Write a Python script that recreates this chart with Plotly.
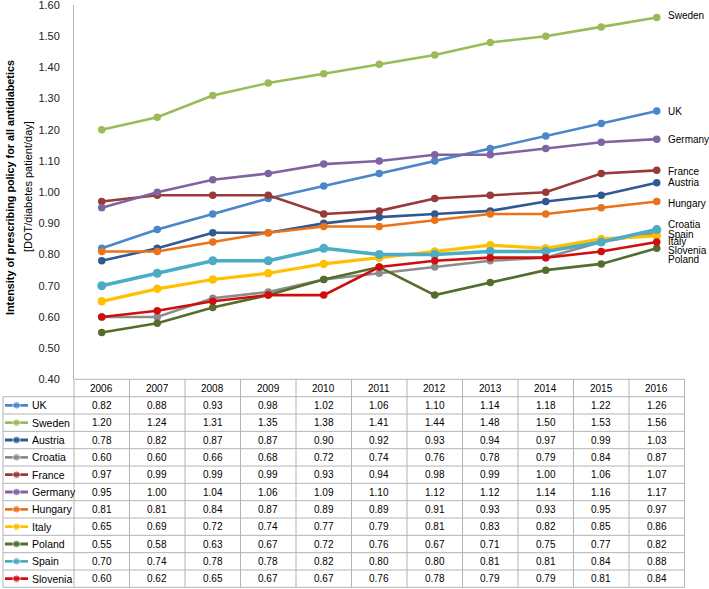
import plotly.graph_objects as go

# ---------------- data ----------------
years = ["2006", "2007", "2008", "2009", "2010", "2011", "2012", "2013", "2014", "2015", "2016"]
countries = ["UK", "Sweden", "Austria", "Croatia", "France", "Germany",
             "Hungary", "Italy", "Poland", "Spain", "Slovenia"]

uk       = [0.82, 0.88, 0.93, 0.98, 1.02, 1.06, 1.10, 1.14, 1.18, 1.22, 1.26]
sweden   = [1.20, 1.24, 1.31, 1.35, 1.38, 1.41, 1.44, 1.48, 1.50, 1.53, 1.56]
austria  = [0.78, 0.82, 0.87, 0.87, 0.90, 0.92, 0.93, 0.94, 0.97, 0.99, 1.03]
croatia  = [0.60, 0.60, 0.66, 0.68, 0.72, 0.74, 0.76, 0.78, 0.79, 0.84, 0.87]
france   = [0.97, 0.99, 0.99, 0.99, 0.93, 0.94, 0.98, 0.99, 1.00, 1.06, 1.07]
germany  = [0.95, 1.00, 1.04, 1.06, 1.09, 1.10, 1.12, 1.12, 1.14, 1.16, 1.17]
hungary  = [0.81, 0.81, 0.84, 0.87, 0.89, 0.89, 0.91, 0.93, 0.93, 0.95, 0.97]
italy    = [0.65, 0.69, 0.72, 0.74, 0.77, 0.79, 0.81, 0.83, 0.82, 0.85, 0.86]
poland   = [0.55, 0.58, 0.63, 0.67, 0.72, 0.76, 0.67, 0.71, 0.75, 0.77, 0.82]
spain    = [0.70, 0.74, 0.78, 0.78, 0.82, 0.80, 0.80, 0.81, 0.81, 0.84, 0.88]
slovenia = [0.60, 0.62, 0.65, 0.67, 0.67, 0.76, 0.78, 0.79, 0.79, 0.81, 0.84]

y_ticks = [0.40, 0.50, 0.60, 0.70, 0.80, 0.90, 1.00, 1.10, 1.20, 1.30, 1.40, 1.50, 1.60]
y_title_1 = "Intensity of prescribing policy for all antidiabetics"
y_title_2 = "[DOT/diabetes patient/day]"

series = [uk, sweden, austria, croatia, france, germany, hungary, italy, poland, spain, slovenia]

# ---------------- styles ----------------
colors = {
    "UK": "#4A86C8", "Sweden": "#9BBB59", "Austria": "#2E5993", "Croatia": "#8C8C8C",
    "France": "#983A37", "Germany": "#8064A2", "Hungary": "#EB7218", "Italy": "#FFC000",
    "Poland": "#546D2C", "Spain": "#4BACC6", "Slovenia": "#D00E0E",
}
widths = {"Italy": 3.2, "Spain": 3.6}
msizes = {"Italy": 8.5, "Spain": 9}
# label vertical offsets (px) for right-hand end labels
label_shift = {"Sweden": 2, "UK": 0, "Germany": 0, "France": -1, "Austria": 0, "Hungary": -2,
               "Croatia": 8, "Spain": -4.5, "Italy": -5.3, "Slovenia": -8.4, "Poland": -11.2}
label_order = ["Sweden", "UK", "Germany", "France", "Austria", "Hungary",
               "Croatia", "Spain", "Italy", "Slovenia", "Poland"]

W, H = 709, 589
FONT = "Liberation Sans, Arial, sans-serif"
GRID = "#B4B4B4"


def px(x):
    return x / W


def py(y):
    return 1 - y / H


PLOT_L, PLOT_R = 74, 684.5
PLOT_T, PLOT_B = 5, 379.3
ROW_T = 396.7
ROW_H = 17.33
TBL_B = ROW_T + ROW_H * len(countries)
LEFT = 3

fig = go.Figure()

for name, vals in zip(countries, series):
    fig.add_trace(go.Scatter(
        x=years, y=vals, mode="lines+markers", name=name,
        line=dict(color=colors[name], width=widths.get(name, 2.6)),
        marker=dict(color=colors[name], size=msizes.get(name, 7.5)),
        showlegend=False, hoverinfo="skip", xaxis="x", yaxis="y",
    ))

# legend keys in the table's first column
for i, name in enumerate(countries):
    fig.add_trace(go.Scatter(
        x=[5, 16.5, 28], y=[i, i, i], mode="lines+markers",
        line=dict(color=colors[name], width=2.8),
        marker=dict(color=colors[name], size=[0, 7.5, 0]),
        showlegend=False, hoverinfo="skip", xaxis="x2", yaxis="y2",
    ))

annotations = []
last = len(years) - 1
# end labels
for name in label_order:
    vals = series[countries.index(name)]
    annotations.append(dict(
        x=last, y=vals[-1], xref="x", yref="y", text=name, showarrow=False,
        xanchor="left", yanchor="middle", xshift=9, yshift=label_shift[name],
        font=dict(family=FONT, size=10, color="#000000"),
    ))

# table header
for j, yr in enumerate(years):
    annotations.append(dict(
        x=j, y=py((PLOT_B + ROW_T) / 2), xref="x", yref="paper", text=yr, showarrow=False,
        xanchor="center", yanchor="middle", font=dict(family=FONT, size=10, color="#000000"),
    ))

# table body
for i, (name, vals) in enumerate(zip(countries, series)):
    annotations.append(dict(
        x=29.5, y=i, xref="x2", yref="y2", text=name, showarrow=False,
        xanchor="left", yanchor="middle", font=dict(family=FONT, size=10.5, color="#000000"),
    ))
    for j, v in enumerate(vals):
        annotations.append(dict(
            x=j, y=i, xref="x", yref="y2", text=f"{v:.2f}", showarrow=False,
            xanchor="center", yanchor="middle", font=dict(family=FONT, size=10, color="#000000"),
        ))

# axis title (two lines)
annotations.append(dict(
    x=px(10.5), y=py(187.5), xref="paper", yref="paper", text=f"<b>{y_title_1}</b>",
    showarrow=False, textangle=-90, xanchor="center", yanchor="middle",
    font=dict(family=FONT, size=10.8, color="#000000"),
))
annotations.append(dict(
    x=px(28), y=py(187), xref="paper", yref="paper", text=y_title_2,
    showarrow=False, textangle=-90, xanchor="center", yanchor="middle",
    font=dict(family=FONT, size=11, color="#000000"),
))

# table grid
shapes = []
line = dict(color=GRID, width=1)
shapes.append(dict(type="line", xref="paper", yref="paper", x0=px(PLOT_L), x1=px(PLOT_R),
                   y0=py(PLOT_B), y1=py(PLOT_B), line=line))
for k in range(len(countries) + 1):
    yy = ROW_T + k * ROW_H
    shapes.append(dict(type="line", xref="paper", yref="paper", x0=px(LEFT), x1=px(PLOT_R),
                       y0=py(yy), y1=py(yy), line=line))
col_w = (PLOT_R - PLOT_L) / len(years)
for k in range(len(years) + 1):
    xx = PLOT_L + k * col_w
    shapes.append(dict(type="line", xref="paper", yref="paper", x0=px(xx), x1=px(xx),
                       y0=py(PLOT_B), y1=py(TBL_B), line=line))
shapes.append(dict(type="line", xref="paper", yref="paper", x0=px(LEFT), x1=px(LEFT),
                   y0=py(ROW_T), y1=py(TBL_B), line=line))

fig.update_layout(
    width=W, height=H, margin=dict(l=0, r=0, t=0, b=0, autoexpand=False),
    paper_bgcolor="white", plot_bgcolor="white",
    xaxis=dict(type="category", domain=[px(PLOT_L), px(PLOT_R)], range=[-0.5, len(years) - 0.5],
               showticklabels=False, showgrid=False, zeroline=False, showline=False,
               fixedrange=True, automargin=False),
    yaxis=dict(domain=[py(PLOT_B), py(PLOT_T)], range=[0.4, 1.6002], tickvals=y_ticks,
               tickformat=".2f", showgrid=False, zeroline=False, showline=True,
               linecolor=GRID, linewidth=1, ticks="", ticklabelstandoff=11,
               ticklabeloverflow="allow",
               tickfont=dict(family=FONT, size=11, color="#222222"), fixedrange=True,
               automargin=False),
    xaxis2=dict(domain=[0, px(PLOT_L)], range=[0, PLOT_L], visible=False, fixedrange=True,
                automargin=False, anchor="y2"),
    yaxis2=dict(domain=[py(TBL_B), py(ROW_T)], range=[len(countries) - 0.5, -0.5],
                visible=False, fixedrange=True, anchor="x2", automargin=False),
    annotations=annotations, shapes=shapes, hovermode=False,
)

fig.write_html("out.html", config={"displayModeBar": False},
               post_script="document.body.style.margin='0';document.body.style.overflow='hidden';")
